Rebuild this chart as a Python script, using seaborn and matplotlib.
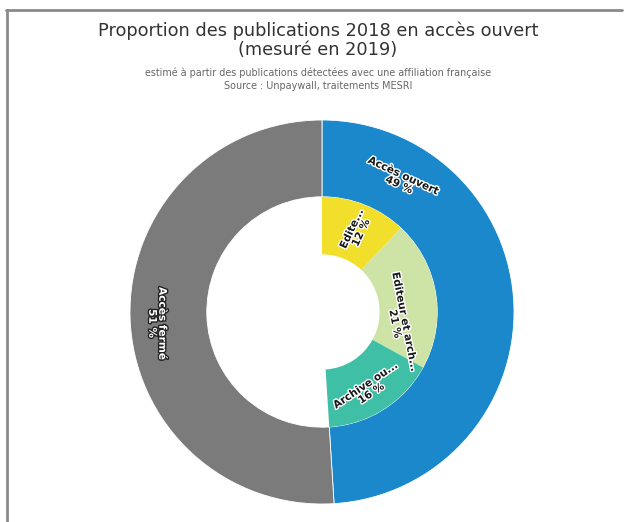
import numpy as np
import seaborn as sns
import matplotlib.pyplot as plt
import matplotlib.patheffects as pe
from matplotlib.lines import Line2D

# ===== données =====
outer_labels = ["Accès ouvert", "Accès fermé"]
outer_values = [49, 51]
inner_labels = ["Edite...", "Editeur et arch...", "Archive ou..."]
inner_values = [12, 21, 16]

outer_colors = ["#1a88cb", "#7b7b7b"]
inner_colors = ["#f2df2c", "#cde4a6", "#3ebfa6"]

sns.set_theme(style="white")
plt.rcParams['font.family'] = ['DejaVu Sans']

W, H = 624, 522
fig = plt.figure(figsize=(W / 100, H / 100), dpi=100)
fig.patch.set_facecolor("white")

# cadre (haut + gauche)
fig.add_artist(Line2D([6 / W, 622 / W], [1 - 10 / H, 1 - 10 / H], color="#8a8a8a", lw=2))
fig.add_artist(Line2D([7 / W, 7 / W], [0, 1 - 10 / H], color="#8a8a8a", lw=2))

# ===== titres =====
fig.text(318 / W, 1 - 31 / H, "Proportion des publications 2018 en accès ouvert",
         ha="center", va="center", fontsize=12.8, color="#333333")
fig.text(318 / W, 1 - 50 / H, "(mesuré en 2019)",
         ha="center", va="center", fontsize=12.8, color="#333333")
fig.text(318 / W, 1 - 73 / H,
         "estimé à partir des publications détectées avec une affiliation française",
         ha="center", va="center", fontsize=6.9, color="#666666")
fig.text(318 / W, 1 - 86 / H, "Source : Unpaywall, traitements MESRI",
         ha="center", va="center", fontsize=6.9, color="#666666")

# ===== anneaux =====
cx, cy, R = 322, 312, 192
ax = fig.add_axes([(cx - R) / W, (H - cy - R) / H, 2 * R / W, 2 * R / H])

ax.pie(outer_values, radius=1.0, colors=outer_colors, startangle=90,
       counterclock=False, wedgeprops=dict(width=0.4, edgecolor="white", linewidth=0.6))
inner_total = sum(inner_values)
ax.pie(inner_values + [100 - inner_total], radius=0.6,
       colors=inner_colors + ["none"], startangle=90, counterclock=False,
       wedgeprops=dict(width=0.3, edgecolor="none"))
ax.set_xlim(-1, 1)
ax.set_ylim(-1, 1)
ax.set_aspect("equal")
ax.axis("off")

# ===== étiquettes (rayon, angle horaire depuis le haut, rotation) =====
layout_outer = [(0.80, 31, -25), (0.86, 266, -90)]
layout_inner = [(0.46, 23, 65), (0.41, 98, -79), (0.47, 149, 34)]

def put_label(text, r, ang, rot, dark_bg=False):
    t = np.deg2rad(ang)
    fg, st = ("white", "#222222") if dark_bg else ("#1a1a1a", "white")
    ax.text(r * np.sin(t), r * np.cos(t), text, ha="center", va="center",
            rotation=rot, rotation_mode="anchor", fontsize=7.6, fontweight="bold",
            color=fg, linespacing=1.0,
            path_effects=[pe.withStroke(linewidth=2, foreground=st)])

for (lab, val), (r, ang, rot), dark in zip(zip(outer_labels, outer_values), layout_outer, [False, True]):
    put_label(f"{lab}\n{val} %", r, ang, rot, dark)
for (lab, val), (r, ang, rot) in zip(zip(inner_labels, inner_values), layout_inner):
    put_label(f"{lab}\n{val} %", r, ang, rot)

fig.savefig("out.png", dpi=100, facecolor="white")
